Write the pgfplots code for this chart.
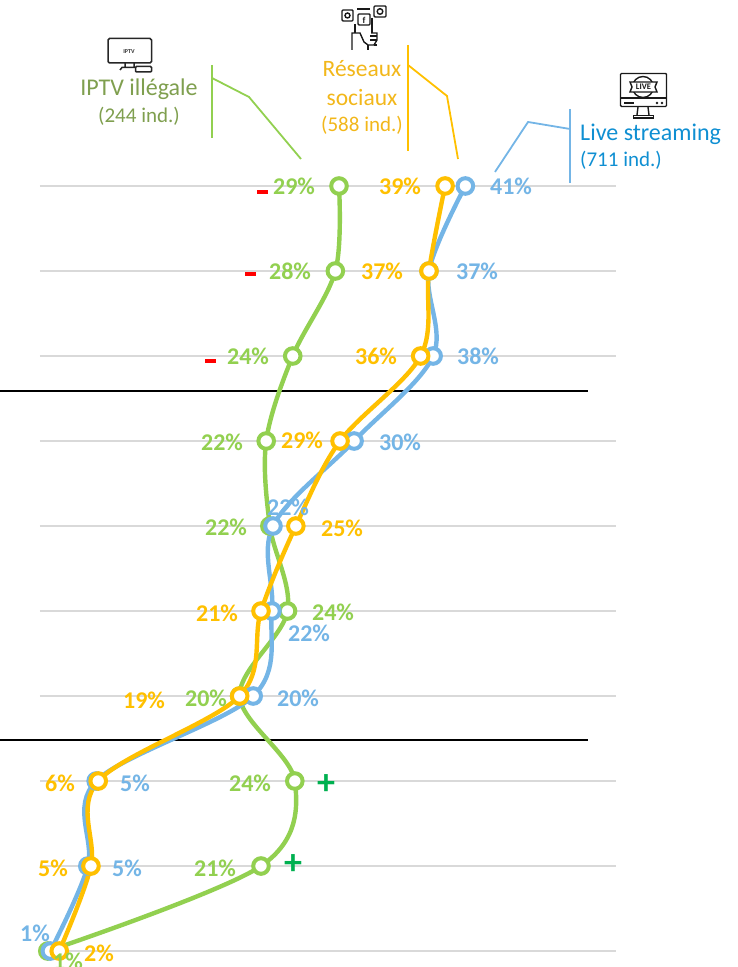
\documentclass[border=0pt]{standalone}
\usepackage{fontspec}
\setmainfont{Carlito}
\usepackage{pgfplots}
\pgfplotsset{compat=1.18}
\definecolor{cg}{HTML}{92D050}
\definecolor{cb}{HTML}{74B5E6}
\definecolor{co}{HTML}{FFC000}
\definecolor{tg}{HTML}{7F9F4F}
\definecolor{to}{HTML}{F2B71A}
\definecolor{tb}{HTML}{0F8FD2}
\definecolor{pl}{HTML}{00B050}
\definecolor{gr}{HTML}{D9D9D9}
\newcommand{\lb}[4]{\node[text=#3,font=\fontsize{24}{26}\selectfont\bfseries,inner sep=0pt] at (#1,#2) {#4};}
\begin{document}
\begin{tikzpicture}
\path[use as bounding box,clip] (0,0) rectangle (738pt,967pt);
\begin{axis}[at={(0,0)},anchor=south west,scale only axis,width=738pt,height=967pt,
  hide axis,clip=false,y dir=reverse,unbounded coords=jump,
  xmin=-3.846,xmax=67.115,ymin=-2.188,ymax=9.188]
\addplot[gr,line width=2.2pt,forget plot] coordinates {(0,0)(55.4,0)(nan,nan)(0,1)(55.4,1)(nan,nan)(0,2)(55.4,2)(nan,nan)(0,3)(55.4,3)(nan,nan)(0,4)(55.4,4)(nan,nan)(0,5)(55.4,5)(nan,nan)(0,6)(55.4,6)(nan,nan)(0,7)(55.4,7)(nan,nan)(0,8)(55.4,8)(nan,nan)(0,9)(55.4,9)};
\addplot[black,line width=1.3pt,forget plot] coordinates {(-3.846,2.412)(52.7,2.412)(nan,nan)(-3.846,6.518)(52.7,6.518)};
\pgfplotsset{ser/.style={line width=4.4pt,smooth,tension=0.55,mark=*,mark size=7.8pt,
  mark options={solid,fill=white,line width=4pt}}}
% green: IPTV illegale
\addplot[cg,ser] coordinates {(28.75,0)(28.4,1)(24.3,2)(21.75,3)(22.1,4)(23.8,5)(19.2,6)(24.5,7)(21.25,8)(0.75,9)};
% blue: Live streaming
\addplot[cb,ser] coordinates {(40.9,0)(37.4,1)(37.8,2)(30.2,3)(22.4,4)(22.3,5)(20.5,6)(5.4,7)(4.6,8)(1.0,9)};
% orange: Reseaux sociaux
\addplot[co,ser] coordinates {(38.95,0)(37.4,1)(36.6,2)(28.85,3)(24.6,4)(21.25,5)(19.2,6)(5.6,7)(4.9,8)(1.85,9)};
\end{axis}
\begin{scope}[x=1pt,y=-1pt,yshift=967pt]
% callouts
\draw[cg,line width=2pt] (212,65)--(212,138);
\draw[cg,line width=1.8pt] (212,78)--(249,97)--(301,159);
\draw[co,line width=2pt] (407.5,45)--(407.5,151);
\draw[co,line width=1.8pt] (408,65)--(447,96)--(458,159);
\draw[cb,line width=2pt] (570,109)--(570,183);
\draw[cb,line width=1.8pt] (570,129)--(528,122)--(495,172);
% titles
\node[text=tg,font=\fontsize{24}{26}\selectfont,inner sep=0pt] at (139,89) {IPTV illégale};
\node[text=tg,font=\fontsize{21}{24}\selectfont,inner sep=0pt] at (139,116) {(244 ind.)};
\node[text=to,font=\fontsize{23.5}{26}\selectfont,inner sep=0pt] at (362,69) {Réseaux};
\node[text=to,font=\fontsize{23.5}{26}\selectfont,inner sep=0pt] at (362,98) {sociaux};
\node[text=to,font=\fontsize{21}{24}\selectfont,inner sep=0pt] at (362,125) {(588 ind.)};
\node[text=tb,font=\fontsize{24}{26}\selectfont,inner sep=0pt,anchor=west] at (580,134) {Live streaming};
\node[text=tb,font=\fontsize{21}{24}\selectfont,inner sep=0pt,anchor=west] at (580,160) {(711 ind.)};
% value labels
\lb{294}{186}{cg}{29\%}\lb{400}{186}{co}{39\%}\lb{511}{186}{cb}{41\%}
\lb{290}{271}{cg}{28\%}\lb{382}{271}{co}{37\%}\lb{477}{271}{cb}{37\%}
\lb{248}{356}{cg}{24\%}\lb{376}{356}{co}{36\%}\lb{478}{356}{cb}{38\%}
\lb{222}{442}{cg}{22\%}\lb{302}{440}{co}{29\%}\lb{400}{442}{cb}{30\%}
\lb{226}{527}{cg}{22\%}\lb{288}{507}{cb}{22\%}\lb{342}{528}{co}{25\%}
\lb{217}{613}{co}{21\%}\lb{333}{612}{cg}{24\%}\lb{309}{633}{cb}{22\%}
\lb{144}{700}{co}{19\%}\lb{206}{698}{cg}{20\%}\lb{298}{698}{cb}{20\%}
\lb{60}{783}{co}{6\%}\lb{135}{783}{cb}{5\%}\lb{250}{783}{cg}{24\%}
\lb{53}{868}{co}{5\%}\lb{127}{868}{cb}{5\%}\lb{215}{868}{cg}{21\%}
\lb{35}{933}{cb}{1\%}\lb{68}{961}{cg}{1\%}\lb{99}{953}{co}{2\%}
% signs
\foreach \x/\y in {262/192,250/274,210/361}{\fill[red] (\x-5.5,\y-2.2) rectangle (\x+5.5,\y+2.2);}
\node[text=pl,font=\fontsize{36}{36}\selectfont\bfseries,inner sep=0pt] at (326,785) {+};
\node[text=pl,font=\fontsize{36}{36}\selectfont\bfseries,inner sep=0pt] at (293,865) {+};
% IPTV icon
\draw[black!85,line width=1.5pt,rounded corners=1.5pt] (108,38.5) rectangle (151.5,63);
\node[black!80,font=\fontsize{6}{6}\selectfont\bfseries,inner sep=0pt] at (129,52) {IPTV};
\draw[black!85,line width=1.5pt] (120,70)--(122,67.5)--(135,67.5) (125,63)--(125,67) (134,63)--(134,67);
\draw[black!85,line width=1.5pt,rounded corners=1pt,fill=white] (135.5,66.5) rectangle (151.5,72);
% social icon
\begin{scope}[black!90,line width=1.4pt]
\draw[rounded corners=1pt] (342,10) rectangle (353,21);
\draw[rounded corners=1pt] (358,14) rectangle (370,25);
\draw[rounded corners=1pt] (374,6) rectangle (386,17);
\draw (380,11.5) circle (2.8);
\draw (357,9)--(370,9) (355,24)--(355,33) (372,18)--(372,33);
\node[font=\fontsize{9}{9}\selectfont\bfseries,inner sep=0pt] at (364,20) {f};
\draw (347.5,15.5) circle (2.5);
\draw (352,50)--(352,33)--(360,33)--(364,42)--(368,45)--(374,45)--(377,40)--(377,33)--(371,33);
\draw (370,36)--(377,36) (370,40)--(377,40) (368,50)--(368,45) (377,45)--(374,45);
\end{scope}
% live icon
\begin{scope}[black!90,line width=1.4pt]
\draw[rounded corners=1pt] (620.5,73.5) rectangle (666.5,106.5);
\draw (620.5,98)--(666.5,98) (624,103)--(634,103);
\draw (638,107)--(637,115) (648,107)--(649,115);
\draw (633.5,115.5) rectangle (653.5,118);
\fill (657,103) circle (1.3) (662,103) circle (1.3);
\draw (643,87) circle (10.5);
\fill[white] (630,82) rectangle (657,92);
\draw (630,82)--(657,82)--(655,87)--(657,92)--(630,92)--(632,87)--cycle;
\node[font=\fontsize{8.5}{8}\selectfont\bfseries,inner sep=0pt] at (643.5,87) {LIVE};
\end{scope}
\end{scope}
\end{tikzpicture}
\end{document}
